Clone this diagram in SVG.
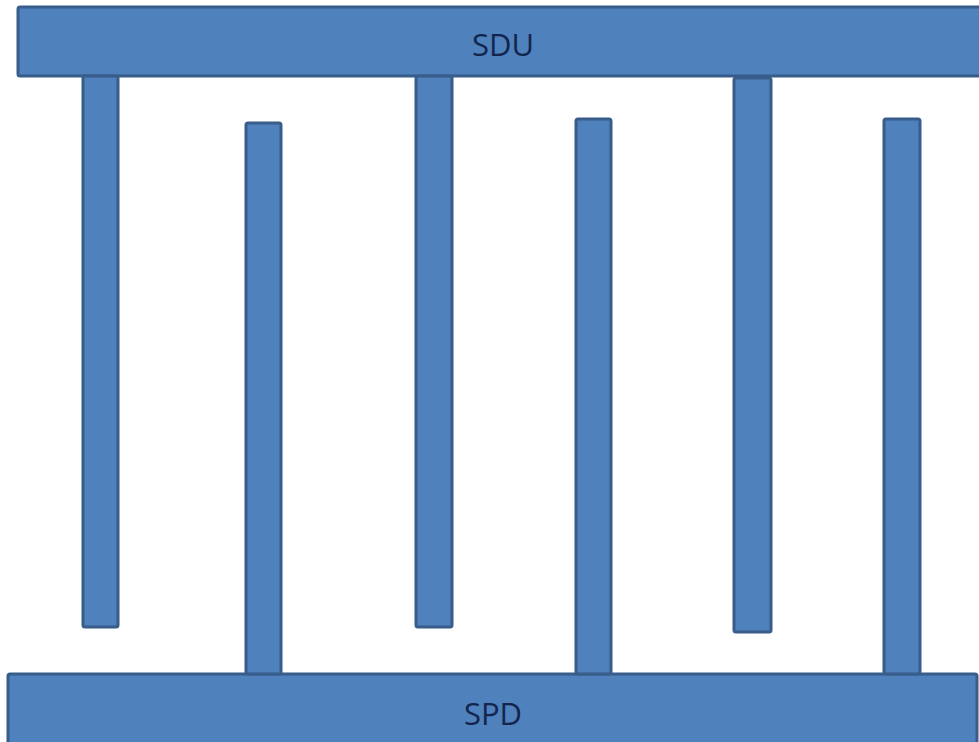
<svg xmlns="http://www.w3.org/2000/svg" width="979" height="742" viewBox="0 0 979 742">
<style>
.b{fill:#4F81BD;stroke:#385D8A;stroke-width:3}
.t{font-family:"Open Sans","Liberation Sans",Arial,sans-serif;font-size:31px;fill:#14254D;text-anchor:middle}
</style>
<rect width="979" height="742" fill="#ffffff"/>
<g id="sdu">
<rect class="b" x="18" y="7" width="964" height="69" rx="2"/>
<text class="t" x="503" y="56">SDU</text>
</g>
<g id="spd">
<rect class="b" x="8" y="674" width="969" height="72" rx="2"/>
<text class="t" x="493" y="725">SPD</text>
</g>
<g id="fingers">
<rect id="f1" class="b" x="83" y="76" width="35" height="551" rx="2"/>
<rect id="f2" class="b" x="246" y="123" width="35" height="551" rx="2"/>
<rect id="f3" class="b" x="416" y="76" width="36" height="551" rx="2"/>
<rect id="f4" class="b" x="576" y="119" width="35" height="555" rx="2"/>
<rect id="f5" class="b" x="734" y="78" width="37" height="554" rx="2"/>
<rect id="f6" class="b" x="884" y="119" width="36" height="555" rx="2"/>
</g>
</svg>
